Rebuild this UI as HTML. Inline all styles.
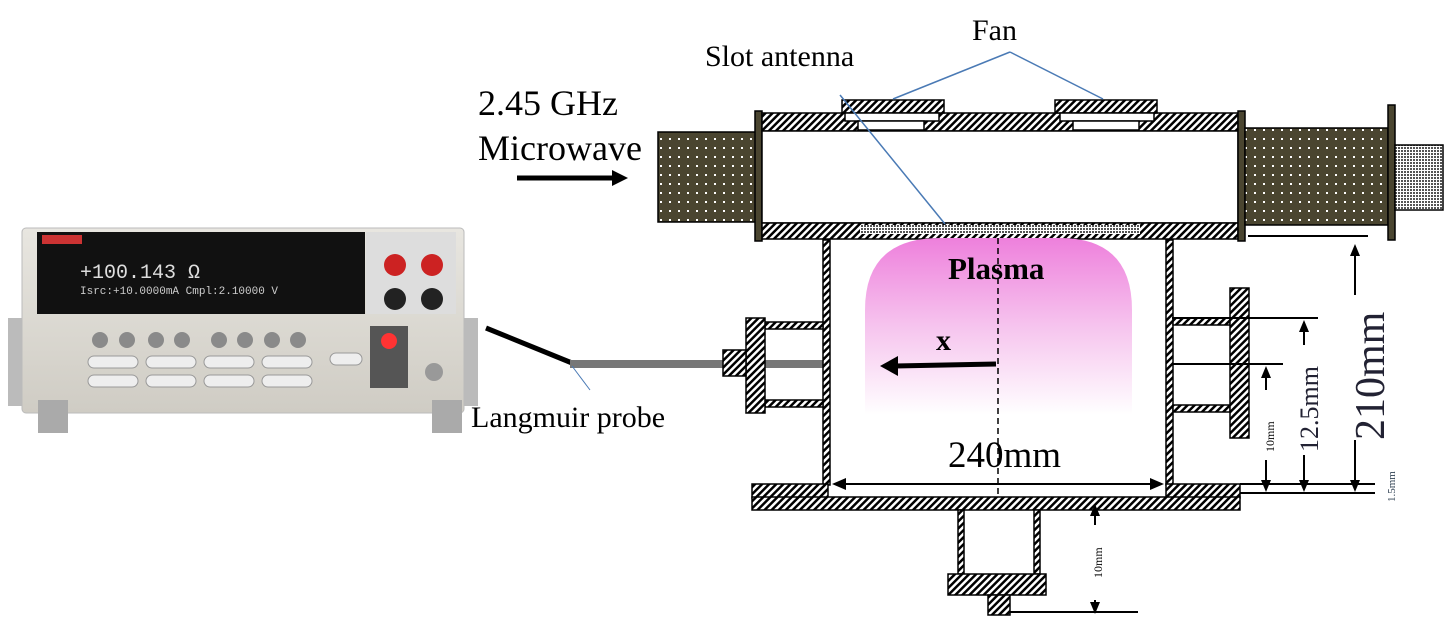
<!DOCTYPE html>
<html><head><meta charset="utf-8"><style>
html,body{margin:0;padding:0;background:#fff;}
svg{display:block;font-family:"Liberation Serif",serif;}
</style></head><body>
<svg width="1445" height="626" viewBox="0 0 1445 626">
<defs>
<pattern id="hatch" width="5" height="5" patternUnits="userSpaceOnUse" patternTransform="rotate(45)">
<rect width="5" height="5" fill="#fff"/><rect width="2.5" height="5" fill="#000"/></pattern>
<pattern id="dots" width="9" height="9" patternUnits="userSpaceOnUse">
<rect width="9" height="9" fill="#4a4530"/><rect x="3" y="3" width="2" height="2" fill="#fff"/></pattern>
<pattern id="check" width="3" height="3" patternUnits="userSpaceOnUse">
<rect width="3" height="3" fill="#fff"/><rect width="2" height="2" fill="#555"/></pattern>
<linearGradient id="pl" x1="0" y1="0" x2="0" y2="1">
<stop offset="0" stop-color="#ee80dc"/><stop offset="0.5" stop-color="#f6c4ee"/><stop offset="1" stop-color="#fff"/></linearGradient>
<linearGradient id="body" x1="0" y1="0" x2="0" y2="1">
<stop offset="0" stop-color="#e8e6e0"/><stop offset="1" stop-color="#cfccc4"/></linearGradient>
</defs>

<!-- instrument -->
<g>
<rect x="8" y="318" width="16" height="88" fill="#bbb"/>
<rect x="462" y="318" width="16" height="88" fill="#bbb"/>
<rect x="22" y="228" width="442" height="185" rx="4" fill="url(#body)" stroke="#bbb"/>
<rect x="38" y="400" width="30" height="33" fill="#aaa"/>
<rect x="432" y="400" width="30" height="33" fill="#aaa"/>
<rect x="37" y="232" width="328" height="82" fill="#111"/>
<rect x="42" y="235" width="40" height="9" fill="#c33"/>
<text x="80" y="278" fill="#ddd" font-family="Liberation Mono,monospace" font-size="20">+100.143 Ω</text>
<text x="80" y="294" fill="#ccc" font-family="Liberation Mono,monospace" font-size="11">Isrc:+10.0000mA  Cmpl:2.10000 V</text>
<rect x="366" y="232" width="90" height="82" fill="#ddd"/>
<circle cx="395" cy="265" r="11" fill="#c22"/><circle cx="432" cy="265" r="11" fill="#c22"/>
<circle cx="395" cy="299" r="11" fill="#222"/><circle cx="432" cy="299" r="11" fill="#222"/>
<rect x="370" y="326" width="38" height="62" fill="#555"/>
<circle cx="389" cy="341" r="8" fill="#f33"/>
<circle cx="434" cy="372" r="9" fill="#999"/>
<g fill="#8a8a8a">
<circle cx="100" cy="340" r="8"/><circle cx="127" cy="340" r="8"/><circle cx="156" cy="340" r="8"/><circle cx="182" cy="340" r="8"/>
<circle cx="219" cy="340" r="8"/><circle cx="245" cy="340" r="8"/><circle cx="272" cy="340" r="8"/><circle cx="298" cy="340" r="8"/>
</g>
<g fill="#eee" stroke="#999">
<rect x="88" y="356" width="50" height="12" rx="6"/><rect x="146" y="356" width="50" height="12" rx="6"/><rect x="204" y="356" width="50" height="12" rx="6"/><rect x="262" y="356" width="50" height="12" rx="6"/>
<rect x="88" y="375" width="50" height="12" rx="6"/><rect x="146" y="375" width="50" height="12" rx="6"/><rect x="204" y="375" width="50" height="12" rx="6"/><rect x="262" y="375" width="50" height="12" rx="6"/>
<rect x="330" y="353" width="32" height="12" rx="6"/>
</g>
</g>

<!-- probe -->
<line x1="486" y1="328" x2="572" y2="363" stroke="#000" stroke-width="5"/>
<rect x="570" y="360" width="260" height="8" fill="#777"/>
<line x1="572" y1="366" x2="590" y2="390" stroke="#4a7ab5" stroke-width="1"/>
<text x="471" y="427" font-size="30">Langmuir probe</text>

<!-- labels -->
<text x="478" y="115" font-size="36">2.45 GHz</text>
<text x="478" y="160" font-size="36">Microwave</text>
<line x1="517" y1="178" x2="615" y2="178" stroke="#000" stroke-width="5"/>
<polygon points="612,170 628,178 612,186" fill="#000"/>
<text x="705" y="66" font-size="30">Slot antenna</text>
<text x="972" y="40" font-size="30">Fan</text>

<!-- waveguide -->
<g stroke="#000" stroke-width="1.5">
<rect x="658" y="132" width="100" height="90" fill="url(#dots)"/>
<rect x="755" y="111" width="7" height="130" fill="#4a4530"/>
<rect x="762" y="113" width="476" height="18" fill="url(#hatch)"/>
<rect x="842" y="100" width="102" height="13" fill="url(#hatch)"/>
<rect x="1055" y="100" width="102" height="13" fill="url(#hatch)"/>
<rect x="845" y="113" width="94" height="8" fill="#fff"/><rect x="858" y="121" width="66" height="9" fill="#fff"/>
<rect x="1060" y="113" width="94" height="8" fill="#fff"/><rect x="1073" y="121" width="66" height="9" fill="#fff"/>
<rect x="762" y="131" width="476" height="92" fill="#fff"/>
<rect x="762" y="223" width="476" height="16" fill="url(#hatch)"/>
<rect x="860" y="225" width="280" height="9" fill="url(#check)" stroke="none"/>
<rect x="1238" y="111" width="7" height="130" fill="#4a4530"/>
<rect x="1245" y="128" width="143" height="97" fill="url(#dots)"/>
<rect x="1388" y="105" width="7" height="135" fill="#4a4530"/>
<rect x="1395" y="145" width="48" height="65" fill="url(#check)"/>
</g>
<g stroke="#4a7ab5" stroke-width="1.5" fill="none">
<line x1="1010" y1="52" x2="893" y2="99"/><line x1="1010" y1="52" x2="1103" y2="99"/>
<line x1="840" y1="95" x2="945" y2="224"/>
</g>

<!-- chamber -->
<g stroke="#000" stroke-width="1.5">
<rect x="823" y="240" width="7" height="245" fill="url(#hatch)"/>
<rect x="1166" y="240" width="7" height="245" fill="url(#hatch)"/>
<rect x="752" y="484" width="76" height="14" fill="url(#hatch)"/>
<rect x="1166" y="484" width="74" height="14" fill="url(#hatch)"/>
<rect x="752" y="497" width="488" height="13" fill="url(#hatch)"/>
<rect x="958" y="510" width="6" height="64" fill="url(#hatch)"/>
<rect x="1034" y="510" width="6" height="64" fill="url(#hatch)"/>
<rect x="948" y="574" width="98" height="21" fill="url(#hatch)"/>
<rect x="988" y="595" width="22" height="20" fill="url(#hatch)"/>
<rect x="765" y="322" width="58" height="7" fill="url(#hatch)"/>
<rect x="765" y="400" width="58" height="7" fill="url(#hatch)"/>
<rect x="746" y="318" width="19" height="95" fill="url(#hatch)"/>
<rect x="723" y="350" width="23" height="26" fill="url(#hatch)"/>
<rect x="1173" y="318" width="57" height="7" fill="url(#hatch)"/>
<rect x="1173" y="405" width="57" height="7" fill="url(#hatch)"/>
<rect x="1230" y="288" width="19" height="150" fill="url(#hatch)"/>
</g>

<!-- plasma -->
<path d="M865,310 Q865,238 940,238 L1060,238 Q1132,238 1132,310 L1132,415 L865,415 Z" fill="url(#pl)"/>
<text x="948" y="279" font-size="31" font-weight="bold">Plasma</text>
<line x1="998" y1="238" x2="998" y2="495" stroke="#000" stroke-width="1.5" stroke-dasharray="6,4"/>
<text x="936" y="350" font-size="30" font-weight="bold">x</text>
<line x1="895" y1="366" x2="996" y2="364" stroke="#000" stroke-width="5"/>
<polygon points="880,366 898,356 898,376" fill="#000"/>

<!-- dimensions -->
<text x="948" y="467" font-size="37">240mm</text>
<line x1="840" y1="484" x2="1156" y2="484" stroke="#000" stroke-width="2"/>
<polygon points="832,484 846,478 846,490" fill="#000"/><polygon points="1164,484 1150,478 1150,490" fill="#000"/>
<g stroke="#000" stroke-width="2">
<line x1="1248" y1="236" x2="1368" y2="236"/>
<line x1="1172" y1="318" x2="1318" y2="318"/>
<line x1="1172" y1="364" x2="1283" y2="364"/>
<line x1="1240" y1="484" x2="1375" y2="484"/>
<line x1="1240" y1="493" x2="1375" y2="493"/>
<line x1="1355" y1="250" x2="1355" y2="295"/><line x1="1355" y1="440" x2="1355" y2="484"/>
<line x1="1304" y1="330" x2="1304" y2="345"/><line x1="1304" y1="455" x2="1304" y2="484"/>
<line x1="1266" y1="375" x2="1266" y2="390"/><line x1="1266" y1="460" x2="1266" y2="484"/>
<line x1="1095" y1="510" x2="1095" y2="525"/><line x1="1095" y1="600" x2="1095" y2="612"/>
<line x1="1010" y1="612" x2="1138" y2="612"/>
</g>
<g fill="#000">
<polygon points="1355,244 1350,256 1360,256"/><polygon points="1355,492 1350,480 1360,480"/>
<polygon points="1304,320 1299,332 1309,332"/><polygon points="1304,492 1299,480 1309,480"/>
<polygon points="1266,366 1261,378 1271,378"/><polygon points="1266,492 1261,480 1271,480"/>
<polygon points="1095,504 1090,516 1100,516"/><polygon points="1095,614 1090,602 1100,602"/>
</g>
<text transform="translate(1384,440) rotate(-90)" font-size="42" fill="#223">210mm</text>
<text transform="translate(1318,452) rotate(-90)" font-size="26" fill="#223">12.5mm</text>
<text transform="translate(1274,452) rotate(-90)" font-size="12">10mm</text>
<text transform="translate(1395,502) rotate(-90)" font-size="11" fill="#345">1.5mm</text>
<text transform="translate(1102,578) rotate(-90)" font-size="12">10mm</text>
</svg>
</body></html>
